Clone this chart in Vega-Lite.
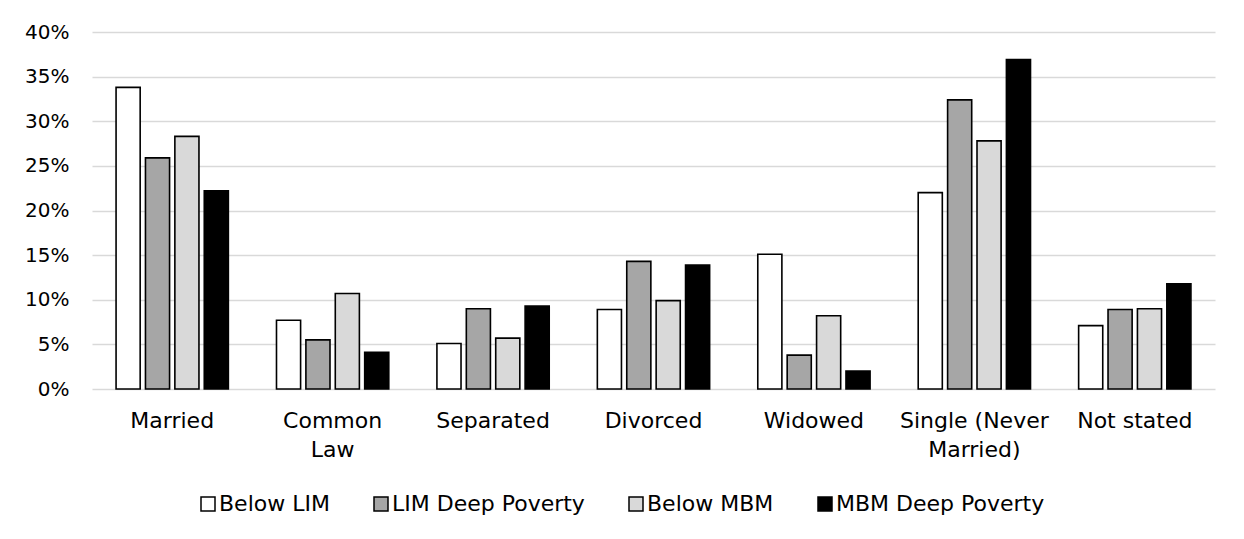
{
  "$schema": "https://vega.github.io/schema/vega-lite/v6.json",
  "autosize": "none",
  "width": 1123,
  "height": 357,
  "padding": {"left": 92, "top": 32, "right": 29, "bottom": 150},
  "background": "white",
  "config": {
    "font": "DejaVu Sans",
    "view": {"stroke": null},
    "axis": {"labelFont": "DejaVu Sans", "labelColor": "#000000"}
  },
  "data": {
    "values": [
      {"status": "Married", "series": "Below LIM", "value": 0.338},
      {"status": "Married", "series": "LIM Deep Poverty", "value": 0.259},
      {"status": "Married", "series": "Below MBM", "value": 0.283},
      {"status": "Married", "series": "MBM Deep Poverty", "value": 0.222},
      {"status": "Common Law", "series": "Below LIM", "value": 0.077},
      {"status": "Common Law", "series": "LIM Deep Poverty", "value": 0.055},
      {"status": "Common Law", "series": "Below MBM", "value": 0.107},
      {"status": "Common Law", "series": "MBM Deep Poverty", "value": 0.041},
      {"status": "Separated", "series": "Below LIM", "value": 0.051},
      {"status": "Separated", "series": "LIM Deep Poverty", "value": 0.090},
      {"status": "Separated", "series": "Below MBM", "value": 0.057},
      {"status": "Separated", "series": "MBM Deep Poverty", "value": 0.093},
      {"status": "Divorced", "series": "Below LIM", "value": 0.089},
      {"status": "Divorced", "series": "LIM Deep Poverty", "value": 0.143},
      {"status": "Divorced", "series": "Below MBM", "value": 0.099},
      {"status": "Divorced", "series": "MBM Deep Poverty", "value": 0.139},
      {"status": "Widowed", "series": "Below LIM", "value": 0.151},
      {"status": "Widowed", "series": "LIM Deep Poverty", "value": 0.038},
      {"status": "Widowed", "series": "Below MBM", "value": 0.082},
      {"status": "Widowed", "series": "MBM Deep Poverty", "value": 0.020},
      {"status": "Single (Never Married)", "series": "Below LIM", "value": 0.220},
      {"status": "Single (Never Married)", "series": "LIM Deep Poverty", "value": 0.324},
      {"status": "Single (Never Married)", "series": "Below MBM", "value": 0.278},
      {"status": "Single (Never Married)", "series": "MBM Deep Poverty", "value": 0.369},
      {"status": "Not stated", "series": "Below LIM", "value": 0.071},
      {"status": "Not stated", "series": "LIM Deep Poverty", "value": 0.089},
      {"status": "Not stated", "series": "Below MBM", "value": 0.090},
      {"status": "Not stated", "series": "MBM Deep Poverty", "value": 0.118}
    ]
  },
  "mark": {"type": "bar", "stroke": "#000000", "strokeWidth": 1.6},
  "encoding": {
    "x": {
      "field": "status",
      "type": "nominal",
      "sort": ["Married", "Common Law", "Separated", "Divorced", "Widowed", "Single (Never Married)", "Not stated"],
      "scale": {"paddingInner": 0.3, "paddingOuter": 0.15},
      "axis": {
        "title": null,
        "labelAngle": 0,
        "labelFontSize": 22,
        "domain": false,
        "ticks": false,
        "labelPadding": 21,
        "labelBaseline": "top",
        "labelLineHeight": 29,
        "labelLimit": 400,
        "labelOverlap": false,
        "labelExpr": "datum.label == 'Common Law' ? ['Common', 'Law'] : datum.label == 'Single (Never Married)' ? ['Single (Never', 'Married)'] : datum.label"
      }
    },
    "xOffset": {
      "field": "series",
      "type": "nominal",
      "sort": ["Below LIM", "LIM Deep Poverty", "Below MBM", "MBM Deep Poverty"],
      "scale": {"paddingInner": 0.18, "paddingOuter": 0}
    },
    "y": {
      "field": "value",
      "type": "quantitative",
      "scale": {"domain": [0, 0.4]},
      "axis": {
        "title": null,
        "format": ".0%",
        "values": [0, 0.05, 0.1, 0.15, 0.2, 0.25, 0.3, 0.35, 0.4],
        "labelOverlap": false,
        "labelFontSize": 20,
        "domain": false,
        "ticks": false,
        "labelPadding": 23,
        "gridColor": "#d9d9d9",
        "gridWidth": 1.5
      }
    },
    "fill": {
      "field": "series",
      "type": "nominal",
      "sort": ["Below LIM", "LIM Deep Poverty", "Below MBM", "MBM Deep Poverty"],
      "scale": {
        "domain": ["Below LIM", "LIM Deep Poverty", "Below MBM", "MBM Deep Poverty"],
        "range": ["#ffffff", "#a6a6a6", "#d9d9d9", "#000000"]
      },
      "legend": {
        "title": null,
        "orient": "none",
        "legendX": 105,
        "legendY": 461,
        "direction": "horizontal",
        "symbolType": "square",
        "symbolSize": 196,
        "symbolStrokeColor": "#000000",
        "symbolStrokeWidth": 1.5,
        "symbolOpacity": 1,
        "labelFont": "DejaVu Sans",
        "labelFontSize": 22,
        "labelColor": "#000000",
        "labelOffset": 0,
        "labelLimit": 400,
        "columnPadding": 40
      }
    }
  }
}
